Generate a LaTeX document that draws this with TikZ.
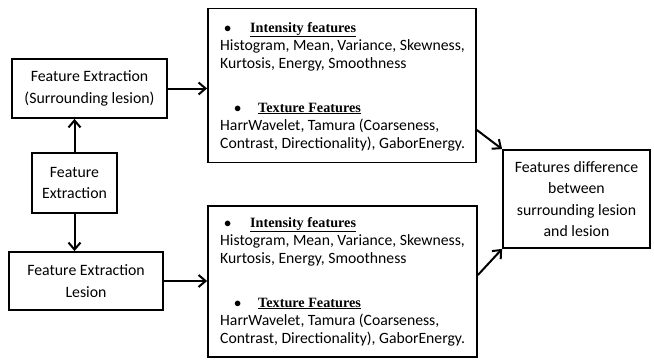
\documentclass[tikz,border=0pt]{standalone}
\usepackage{fontspec}
\setmainfont{Carlito}
\newfontfamily\tnr{Liberation Serif}
\usetikzlibrary{arrows.meta}
\begin{document}
\begin{tikzpicture}[x=1pt,y=-1pt,
  box/.style={draw, line width=1.8pt, inner sep=0pt, align=center,
    font=\fontsize{15.8}{21.5}\selectfont},
  ln/.style={anchor=base west, inner sep=0pt, font=\fontsize{15.7}{16}\selectfont},
  hd/.style={anchor=base west, inner sep=0pt, font=\fontsize{14.2}{16}\selectfont\tnr\bfseries},
  arr/.style={-{Straight Barb[length=7pt,width=12pt]}, line width=2pt}]
\useasboundingbox (0,0) rectangle (654,360);
% left boxes
\node[box, minimum width=155pt, minimum height=59pt] (surr) at (89.5,88.5)
  {Feature Extraction\\(Surrounding lesion)};
\node[box, minimum width=85pt, minimum height=60pt] (fe) at (74.5,183)
  {Feature\\Extraction};
\node[box, minimum width=154pt, minimum height=58pt] (les) at (86,281)
  {Feature Extraction\\Lesion};
% middle boxes
\node[box, minimum width=268pt, minimum height=154pt] (top) at (342,85.5) {};
\node[box, minimum width=269pt, minimum height=151pt] (bot) at (342.5,281.5) {};
% right box
\node[box, minimum width=147pt, minimum height=98pt] (diff) at (576.5,199)
  {Features difference\\between\\surrounding lesion\\and lesion};
% text top box
\node[ln] (t0) at (224,32) {$\bullet$};
\node[hd] (t1) at (250,32) {\underline{Intensity features}};
\node[ln] (t2) at (220,50) {Histogram, Mean, Variance, Skewness,};
\node[ln] (t3) at (220,68) {Kurtosis, Energy, Smoothness};
\node[ln] (t4) at (234,112) {$\bullet$};
\node[hd] (t5) at (258,112) {\underline{Texture Features}};
\node[ln] (t6) at (220,130) {HarrWavelet, Tamura (Coarseness,};
\node[ln] (t7) at (220,148) {Contrast, Directionality), GaborEnergy.};
% text bottom box
\node[ln] (b0) at (224,227) {$\bullet$};
\node[hd] (b1) at (250,227) {\underline{Intensity features}};
\node[ln] (b2) at (220,245) {Histogram, Mean, Variance, Skewness,};
\node[ln] (b3) at (220,263) {Kurtosis, Energy, Smoothness};
\node[ln] (b4) at (234,307) {$\bullet$};
\node[hd] (b5) at (258,307) {\underline{Texture Features}};
\node[ln] (b6) at (220,325) {HarrWavelet, Tamura (Coarseness,};
\node[ln] (b7) at (220,343) {Contrast, Directionality), GaborEnergy.};
% arrows
\draw[arr] (fe.north) -- (fe.north |- surr.south);
\draw[arr] (fe.south) -- (fe.south |- les.north);
\draw[arr] (surr.east) -- (surr.east -| top.west);
\draw[arr] (les.east) -- (les.east -| bot.west);
\draw[arr] (top.east |- 0,130) -- (diff.north west);
\draw[arr] (bot.east |- 0,275) -- (diff.south west);
\end{tikzpicture}
\end{document}
